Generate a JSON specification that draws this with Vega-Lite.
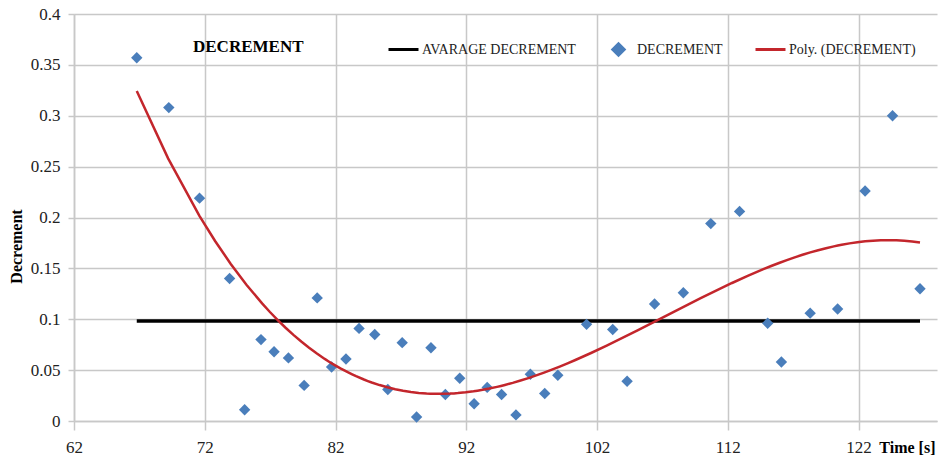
{
  "$schema": "https://vega.github.io/schema/vega-lite/v6.json",
  "width": 863,
  "height": 407,
  "autosize": {"type": "none"},
  "padding": {"left": 74, "top": 14, "right": 2, "bottom": 40},
  "background": "white",
  "config": {"view": {"stroke": null}, "font": "Liberation Serif"},
  "data": {
    "values": [
      {"time": 66.8, "decrement": 0.357},
      {"time": 69.25, "decrement": 0.308},
      {"time": 71.6, "decrement": 0.219},
      {"time": 73.9, "decrement": 0.14},
      {"time": 75.05, "decrement": 0.011},
      {"time": 76.3, "decrement": 0.08},
      {"time": 77.3, "decrement": 0.068},
      {"time": 78.4, "decrement": 0.062},
      {"time": 79.6, "decrement": 0.035},
      {"time": 80.6, "decrement": 0.121},
      {"time": 81.7, "decrement": 0.053},
      {"time": 82.8, "decrement": 0.061},
      {"time": 83.8, "decrement": 0.091},
      {"time": 85.0, "decrement": 0.085},
      {"time": 86.0, "decrement": 0.031},
      {"time": 87.1, "decrement": 0.077},
      {"time": 88.2, "decrement": 0.004},
      {"time": 89.3, "decrement": 0.072},
      {"time": 90.4, "decrement": 0.026},
      {"time": 91.5, "decrement": 0.042},
      {"time": 92.6, "decrement": 0.017},
      {"time": 93.6, "decrement": 0.033},
      {"time": 94.7, "decrement": 0.026},
      {"time": 95.8, "decrement": 0.006},
      {"time": 96.9, "decrement": 0.046},
      {"time": 98.0, "decrement": 0.027},
      {"time": 99.0, "decrement": 0.045},
      {"time": 101.2, "decrement": 0.095},
      {"time": 103.2, "decrement": 0.09},
      {"time": 104.3, "decrement": 0.039},
      {"time": 106.4, "decrement": 0.115},
      {"time": 108.6, "decrement": 0.126},
      {"time": 110.7, "decrement": 0.194},
      {"time": 112.9, "decrement": 0.206},
      {"time": 115.05, "decrement": 0.096},
      {"time": 116.1, "decrement": 0.058},
      {"time": 118.3, "decrement": 0.106},
      {"time": 120.4, "decrement": 0.11},
      {"time": 122.5, "decrement": 0.226},
      {"time": 124.6, "decrement": 0.3},
      {"time": 126.7, "decrement": 0.13}
    ]
  },
  "layer": [
    {
      "mark": {"type": "rule", "strokeWidth": 3.5},
      "encoding": {
        "x": {"aggregate": "min", "field": "time", "type": "quantitative",
          "scale": {"domain": [62, 128], "nice": false, "zero": false},
          "axis": {"values": [62, 72, 82, 92, 102, 112, 122], "title": "Time [s]", "titleX": 861, "titleY": 31, "titleAlign": "right", "titleBaseline": "alphabetic", "titleFontWeight": "bold", "titleFontSize": 16, "titleColor": "black", "labelFontSize": 17, "labelColor": "#222", "labelPadding": 9, "labelFlush": false, "tickSize": 9, "tickColor": "#c8c8c8", "tickWidth": 1.5, "gridColor": "#c8c8c8", "gridWidth": 1.5, "domainColor": "#c8c8c8", "domainWidth": 1.5}},
        "x2": {"aggregate": "max", "field": "time"},
        "y": {"aggregate": "mean", "field": "decrement", "type": "quantitative",
          "scale": {"domain": [0, 0.4], "nice": false},
          "axis": {"values": [0, 0.05, 0.1, 0.15, 0.2, 0.25, 0.3, 0.35, 0.4], "format": ".2~f", "title": "Decrement", "titleX": -50, "titleY": 232, "titleFontWeight": "bold", "titleFontSize": 16, "titleColor": "black", "labelFontSize": 17, "labelColor": "#222", "labelPadding": 8, "tickSize": 6, "tickColor": "#c8c8c8", "tickWidth": 1.5, "gridColor": "#c8c8c8", "gridWidth": 1.5, "domainColor": "#c8c8c8", "domainWidth": 1.5}},
        "color": {"datum": "AVARAGE DECREMENT", "type": "nominal",
          "scale": {"domain": ["AVARAGE DECREMENT", "DECREMENT", "Poly. (DECREMENT)"], "range": ["black", "#4a7ebb", "#c3262c"]},
          "legend": {"orient": "none", "legendX": 119, "legendY": 19, "direction": "horizontal", "gridAlign": "none", "title": "DECREMENT", "titleOrient": "left", "titlePadding": 83, "titleFontSize": 17, "titleFontWeight": "bold", "titleColor": "black", "labelFontSize": 14, "labelColor": "#222", "labelLimit": 0, "columnPadding": 26, "labelOffset": 2,
            "encode": {"symbols": {"update": {
              "shape": {"signal": "datum.value === 'DECREMENT' ? 'diamond' : 'stroke'"},
              "size": {"signal": "datum.value === 'DECREMENT' ? 130 : 900"},
              "fill": {"signal": "datum.value === 'DECREMENT' ? '#4a7ebb' : 'transparent'"},
              "stroke": {"signal": "datum.value === 'DECREMENT' ? 'transparent' : (datum.value === 'AVARAGE DECREMENT' ? 'black' : '#c3262c')"},
              "strokeWidth": {"value": 3},
              "opacity": {"value": 1}
            }}}}}
      }
    },
    {
      "mark": {"type": "point", "shape": "diamond", "filled": true, "size": 130, "opacity": 1},
      "encoding": {
        "x": {"field": "time", "type": "quantitative"},
        "y": {"field": "decrement", "type": "quantitative"},
        "color": {"datum": "DECREMENT", "type": "nominal"}
      }
    },
    {
      "transform": [{"regression": "decrement", "on": "time", "method": "poly", "order": 3}],
      "mark": {"type": "line", "strokeWidth": 2.5},
      "encoding": {
        "x": {"field": "time", "type": "quantitative"},
        "y": {"field": "decrement", "type": "quantitative"},
        "color": {"datum": "Poly. (DECREMENT)", "type": "nominal"}
      }
    }
  ]
}
